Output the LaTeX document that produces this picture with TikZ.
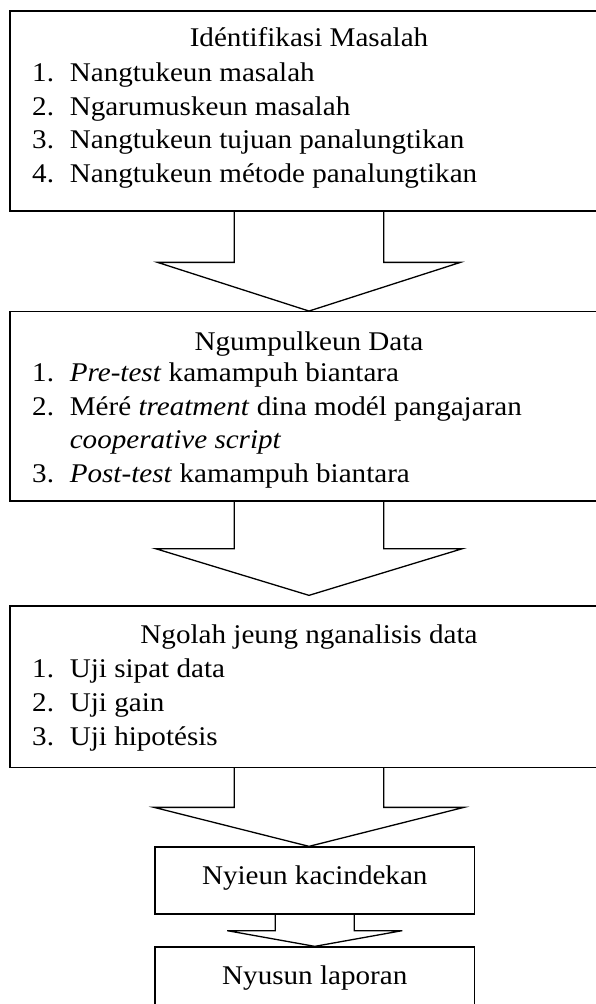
\documentclass[tikz,border=0pt]{standalone}
\usepackage{fontspec}
\setmainfont{Liberation Serif}
\usetikzlibrary{calc}
\begin{document}
\begin{tikzpicture}[x=1pt,y=-1pt,
  box/.style={draw, line width=1.3pt, inner sep=0pt, rectangle},
  txt/.style={anchor=base west, inner sep=0pt, xscale=1.078, transform shape, font=\fontsize{27}{33.6}\selectfont},
  ctxt/.style={anchor=base, inner sep=0pt, xscale=1.078, transform shape, font=\fontsize{27}{33.6}\selectfont},
  blockarrow/.style={draw, line width=1.3pt}]
\useasboundingbox (0,0) rectangle (596,1004);
\clip (0,0) rectangle (596,1004);
\fill[white] (0,0) rectangle (596,1004);
% boxes
\node[box, minimum width=598pt, minimum height=200pt] (b1) at (309,111) {};
\node[box, minimum width=598pt, minimum height=189.3pt] (b2) at (309,406.35) {};
\node[box, minimum width=598pt, minimum height=161.3pt] (b3) at (309,686.65) {};
\node[box, minimum width=319.5pt, minimum height=67pt] (b4) at (314.75,880.5) {};
\node[box, minimum width=319.5pt, minimum height=67pt] (b5) at (314.75,980.5) {};
% box 1 text
\node[ctxt] (t1) at (309,46.7) {Idéntifikasi Masalah};
\node[txt] (n11) at (32,81.7) {1.}; \node[txt] (i11) at (69.6,81.7) {Nangtukeun masalah};
\node[txt] (n12) at (32,115.3) {2.}; \node[txt] (i12) at (69.6,115.3) {Ngarumuskeun masalah};
\node[txt] (n13) at (32,148.9) {3.}; \node[txt] (i13) at (69.6,148.9) {Nangtukeun tujuan panalungtikan};
\node[txt] (n14) at (32,182.5) {4.}; \node[txt] (i14) at (69.6,182.5) {Nangtukeun métode panalungtikan};
% box 2 text
\node[ctxt] (t2) at (309,350) {Ngumpulkeun Data};
\node[txt] (n21) at (32,381.7) {1.}; \node[txt] (i21) at (69.6,381.7) {\textit{Pre-test} kamampuh biantara};
\node[txt] (n22) at (32,415.3) {2.}; \node[txt] (i22) at (69.6,415.3) {Méré \textit{treatment} dina modél pangajaran};
\node[txt] (i22b) at (69.6,448.9) {\textit{cooperative script}};
\node[txt] (n23) at (32,482.5) {3.}; \node[txt] (i23) at (69.6,482.5) {\textit{Post-test} kamampuh biantara};
% box 3 text
\node[ctxt] (t3) at (309,643.5) {Ngolah jeung nganalisis data};
\node[txt] (n31) at (32,677.7) {1.}; \node[txt] (i31) at (69.6,677.7) {Uji sipat data};
\node[txt] (n32) at (32,711.5) {2.}; \node[txt] (i32) at (69.6,711.5) {Uji gain};
\node[txt] (n33) at (32,745.2) {3.}; \node[txt] (i33) at (69.6,745.2) {Uji hipotésis};
% box 4,5 text
\node[ctxt] (t4) at (314.75,884) {Nyieun kacindekan};
\node[ctxt] (t5) at (314.75,984) {Nyusun laporan};
% block arrows
\draw[blockarrow] ($(b1.south)+(-74.7,0)$) -- ($(b1.south)+(-74.7,50.7)$) -- ($(b1.south)+(-151.5,50.7)$)
  -- (b2.north) -- ($(b1.south)+(151.5,50.7)$) -- ($(b1.south)+(74.7,50.7)$) -- ($(b1.south)+(74.7,0)$);
\coordinate (tip2) at ($(b3.north)+(0,-10)$);
\draw[blockarrow] ($(b2.south)+(-74.7,0)$) -- ($(b2.south)+(-74.7,47)$) -- ($(b2.south)+(-153.5,47)$)
  -- (tip2) -- ($(b2.south)+(153.5,47)$) -- ($(b2.south)+(74.7,47)$) -- ($(b2.south)+(74.7,0)$);
\draw[blockarrow] ($(b3.south)+(-74.7,0)$) -- ($(b3.south)+(-74.7,39.4)$) -- ($(b3.south)+(-155,39.4)$)
  -- (b3.south |- b4.north) -- ($(b3.south)+(155,39.4)$) -- ($(b3.south)+(74.7,39.4)$) -- ($(b3.south)+(74.7,0)$);
\draw[blockarrow] ($(b4.south)+(-39.5,0)$) -- ($(b4.south)+(-39.5,16)$) -- ($(b4.south)+(-87.5,16)$)
  -- (b5.north) -- ($(b4.south)+(87.5,16)$) -- ($(b4.south)+(39.5,16)$) -- ($(b4.south)+(39.5,0)$);
\end{tikzpicture}
\end{document}
